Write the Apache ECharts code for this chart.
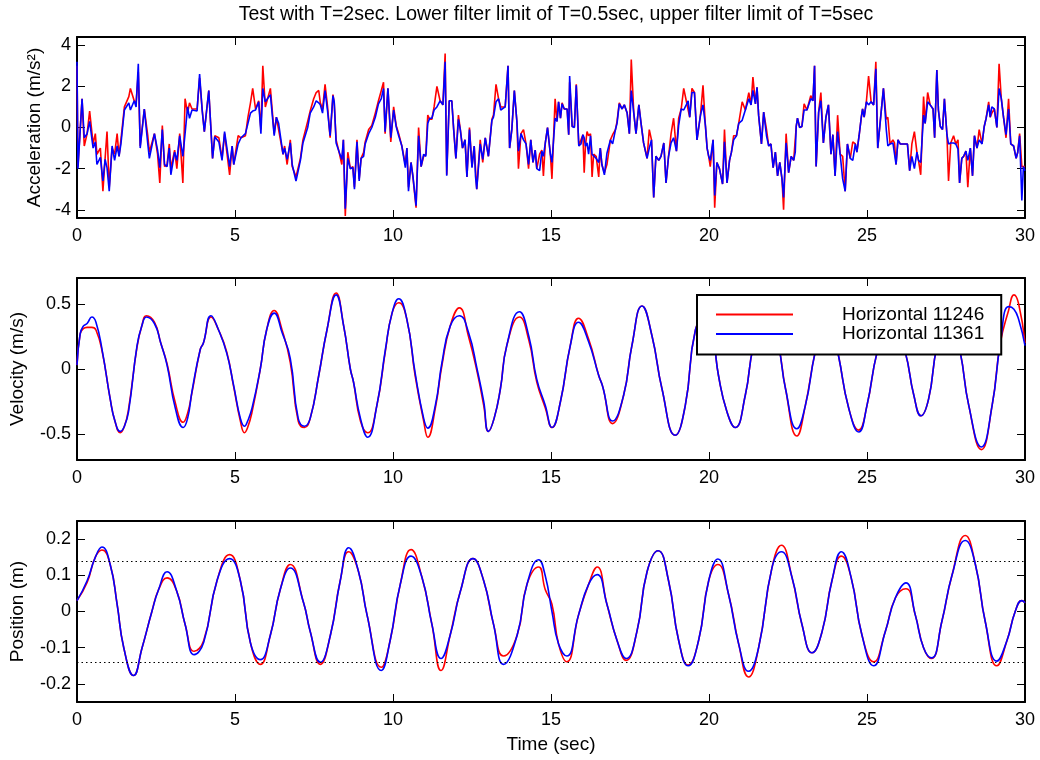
<!DOCTYPE html>
<html>
<head>
<meta charset="utf-8">
<title>Filter test</title>
<script src="https://cdn.jsdelivr.net/npm/echarts@6/dist/echarts.min.js"></script>
<style>
  html, body { margin: 0; padding: 0; background: #fff; }
  #chart { width: 1040px; height: 760px; }
</style>
</head>
<body>
<div id="chart"></div>
<script>
// ---- data ----
const seriesNames = ['Horizontal 11246', 'Horizontal 11361']
const timeTicks = [0, 5, 10, 15, 20, 25, 30]
const accelTicks = [-4, -2, 0, 2, 4]
const velTicks = [-0.5, 0, 0.5]
const posTicks = [-0.2, -0.1, 0, 0.1, 0.2]
const posLimits = [0.145, -0.145]

// acceleration (m/s^2), shared sample times
const accelTime = [
  0.00, 0.03, 0.16, 0.23, 0.32, 0.40, 0.51, 0.58, 0.63, 0.74,
  0.82, 0.89, 0.95, 1.02, 1.11, 1.19, 1.27, 1.33, 1.39, 1.50,
  1.64, 1.69, 1.81, 1.87, 1.94, 2.00, 2.13, 2.24, 2.29, 2.45,
  2.55, 2.62, 2.70, 2.77, 2.85, 2.92, 2.97, 3.09, 3.16, 3.25,
  3.35, 3.42, 3.50, 3.56, 3.64, 3.80, 3.88, 3.96, 4.03, 4.17,
  4.29, 4.36, 4.49, 4.59, 4.67, 4.83, 4.91, 4.96, 5.10, 5.19,
  5.33, 5.41, 5.49, 5.56, 5.65, 5.75, 5.82, 5.88, 5.96, 6.12,
  6.24, 6.31, 6.38, 6.52, 6.57, 6.65, 6.75, 6.81, 6.93, 7.07,
  7.15, 7.30, 7.38, 7.49, 7.57, 7.65, 7.70, 7.77, 7.85, 7.93,
  8.01, 8.10, 8.14, 8.20, 8.31, 8.38, 8.43, 8.49, 8.57, 8.65,
  8.73, 8.78, 8.86, 8.93, 8.99, 9.07, 9.12, 9.23, 9.33, 9.44,
  9.54, 9.63, 9.70, 9.75, 9.84, 9.93, 10.02, 10.10, 10.18, 10.28,
  10.39, 10.44, 10.49, 10.57, 10.63, 10.73, 10.81, 10.89, 10.97, 11.04,
  11.10, 11.16, 11.23, 11.30, 11.39, 11.49, 11.58, 11.65, 11.70, 11.78,
  11.86, 11.92, 11.99, 12.07, 12.13, 12.20, 12.28, 12.34, 12.42, 12.50,
  12.57, 12.61, 12.65, 12.76, 12.84, 12.92, 13.02, 13.13, 13.18, 13.26,
  13.34, 13.41, 13.55, 13.64, 13.69, 13.76, 13.84, 13.92, 13.97, 14.05,
  14.13, 14.21, 14.29, 14.36, 14.43, 14.50, 14.55, 14.64, 14.71, 14.76,
  14.82, 14.89, 14.98, 15.03, 15.13, 15.19, 15.24, 15.30, 15.35, 15.42,
  15.51, 15.56, 15.59, 15.67, 15.74, 15.80, 15.88, 15.95, 16.01, 16.05,
  16.09, 16.14, 16.19, 16.25, 16.30, 16.35, 16.43, 16.51, 16.56, 16.61,
  16.69, 16.77, 16.88, 16.95, 17.04, 17.09, 17.16, 17.25, 17.32, 17.41,
  17.48, 17.54, 17.62, 17.69, 17.78, 17.85, 17.93, 18.04, 18.11, 18.18,
  18.25, 18.32, 18.41, 18.48, 18.57, 18.64, 18.72, 18.80, 18.88, 18.97,
  19.04, 19.12, 19.20, 19.28, 19.34, 19.39, 19.46, 19.54, 19.62, 19.73,
  19.81, 19.89, 19.94, 19.99, 20.04, 20.13, 20.18, 20.25, 20.33, 20.38,
  20.43, 20.49, 20.57, 20.65, 20.71, 20.78, 20.87, 20.94, 21.05, 21.15,
  21.26, 21.33, 21.39, 21.47, 21.52, 21.57, 21.66, 21.73, 21.82, 21.89,
  21.96, 22.03, 22.10, 22.17, 22.24, 22.31, 22.36, 22.44, 22.52, 22.60,
  22.68, 22.73, 22.76, 22.80, 22.87, 22.94, 23.01, 23.10, 23.15, 23.22,
  23.29, 23.34, 23.39, 23.47, 23.54, 23.62, 23.70, 23.78, 23.86, 23.92,
  23.99, 24.07, 24.15, 24.23, 24.31, 24.38, 24.47, 24.55, 24.63, 24.68,
  24.75, 24.82, 24.86, 24.91, 24.98, 25.05, 25.13, 25.21, 25.28, 25.34,
  25.42, 25.52, 25.61, 25.66, 25.73, 25.82, 25.87, 25.92, 25.98, 26.05,
  26.13, 26.21, 26.28, 26.35, 26.42, 26.50, 26.58, 26.63, 26.70, 26.79,
  26.84, 26.92, 27.00, 27.09, 27.14, 27.21, 27.26, 27.32, 27.39, 27.45,
  27.53, 27.58, 27.65, 27.74, 27.81, 27.88, 27.93, 28.00, 28.06, 28.13,
  28.19, 28.27, 28.34, 28.40, 28.48, 28.55, 28.64, 28.71, 28.77, 28.85,
  28.90, 28.95, 29.03, 29.11, 29.18, 29.25, 29.32, 29.40, 29.48, 29.55,
  29.64, 29.72, 29.77, 29.83, 29.90, 29.95, 30.00
]
const accelRed = [
  3.0, -1.9, 1.4, -0.9, -0.3, 0.8, -0.8, -0.3, -1.3, -1.0,
  -3.1, -1.5, -0.2, -2.9, -1.0, -1.3, -0.3, -1.4, -0.6, 1.0,
  1.5, 1.9, 1.3, 1.2, 2.7, -0.9, 0.9, -0.4, -1.2, -0.3,
  -1.3, -2.7, 0.1, -1.9, -1.8, -0.8, -2.0, -1.1, -2.0, -0.3,
  -2.7, 1.4, 0.7, 1.2, 0.9, 0.9, 2.4, 0.9, -0.2, 1.8,
  -1.5, -0.4, -0.5, -1.5, -0.3, -2.3, -0.9, -1.8, -0.4, -0.5,
  -0.4, 0.5, 1.2, 1.9, 0.9, 1.3, -0.1, 3.0, 1.0, 1.9,
  -0.3, 0.5, -0.1, -1.3, -0.9, -1.8, -0.6, -1.9, -2.4, -1.5,
  -0.6, 0.3, 0.8, 1.4, 1.7, 1.8, 1.2, 0.9, 2.1, 1.0,
  -0.5, 1.6, 1.2, -0.6, -1.3, -1.8, -0.6, -4.3, -1.2, -2.0,
  -1.9, -2.9, -0.6, -2.5, -1.5, -1.2, -0.7, -0.1, 0.1, 0.7,
  1.3, 1.8, 2.2, -0.3, 1.9, -0.7, 1.0, 0.1, -0.3, -0.9,
  -1.8, -1.0, -2.9, -1.7, -2.4, -3.9, 0.0, -1.9, -1.4, -1.3,
  0.6, 0.4, 0.4, 1.0, 2.0, 1.3, 1.1, 3.6, -2.3, 1.3,
  1.3, -0.1, -1.5, 0.6, -0.1, -1.0, -0.6, -2.4, 0.0, -1.9,
  -0.9, -2.0, -3.0, -0.6, -1.7, -0.5, -1.4, 0.4, 0.6, 2.1,
  1.4, 1.0, 1.0, 3.0, -1.0, -0.1, 1.8, 0.3, -2.0, -0.3,
  -0.1, -0.8, -2.0, -0.6, -1.7, -1.1, -2.0, -1.3, -1.1, -2.35,
  -0.75, 0.0, -1.3, -2.5, 1.4, 0.3, 1.25, 0.45, 1.2, 0.9,
  0.9, -0.35, 2.2, 0.05, 0.05, 2.1, -0.9, -0.6, -0.35, -2.2,
  -0.9, -0.2, -0.4, -0.3, -2.4, -1.3, -1.4, -2.4, -1.0, -1.8,
  -2.2, -1.8, -0.6, -0.35, -0.1, 0.3, 1.2, 0.9, 1.1, 0.7,
  -0.3, 3.3, 0.7, -0.3, 1.1, 0.2, -0.75, -1.5, -0.1, -0.6,
  -3.4, -1.4, -1.6, -1.4, -0.75, -2.7, -1.4, -0.3, 0.45, -1.15,
  0.45, 0.9, 1.9, 1.3, 1.3, 0.5, 1.9, 1.7, -0.6, 0.6,
  2.05, 0.0, -1.0, -1.4, -1.9, -0.6, -3.9, -1.7, -2.0, -2.0,
  -2.75, -0.1, -2.7, -1.6, -1.2, -0.4, -0.4, 0.2, 1.25, 0.85,
  1.7, 1.1, 2.45, 1.15, 1.95, 0.6, -0.8, 0.75, -0.1, -0.9,
  -0.8, -1.95, -1.2, -2.35, -1.7, -2.5, -4.0, -0.3, -2.2, -1.4,
  -1.6, -1.6, 0.05, 0.45, 0.0, 0.05, 1.15, 0.85, 0.9, 1.55,
  1.3, 3.0, -1.9, 0.75, 1.7, -0.75, 0.5, 1.1, -1.3, -0.35,
  -2.35, 0.6, -1.3, -1.4, -3.1, -0.8, -1.5, -0.7, -0.8, -1.2,
  -0.4, 0.5, 0.9, 0.5, 1.25, 2.5, 1.25, 1.1, 3.2, -1.0,
  0.3, 1.9, 0.4, 0.5, -0.8, -0.6, -0.75, -1.8, -0.6, -0.8,
  -0.8, -0.8, -0.8, -2.1, -0.8, -0.2, -1.2, -1.6, -2.3, 1.5,
  0.2, 1.7, 1.1, 0.9, -0.5, 2.8, 0.85, 0.05, -0.1, 1.4,
  -0.35, -2.6, -0.75, -0.4, -0.8, -0.6, -2.7, -1.5, -1.4, -1.15,
  -2.9, -1.0, -2.35, -0.4, -1.0, -0.1, -0.8, 0.05, 0.45, 1.25,
  0.5, 0.7, 0.9, 0.0, 3.1, 1.4, 0.5, -0.5, 1.4, -0.8,
  -0.9, -1.5, -1.2, -0.3, -1.9, -1.9, -1.9
]
const accelBlue = [
  3.2, -2.0, 1.4, -0.5, -0.3, 0.3, -1.0, -0.7, -1.8, -1.45,
  -2.6, -1.55, -1.95, -3.1, -0.9, -1.6, -0.9, -1.4, -0.8, 0.85,
  1.2, 0.85, 1.3, 1.0, 3.1, -1.0, 0.9, -0.8, -1.5, -0.3,
  -1.1, -1.95, -0.1, -1.8, -1.9, -1.0, -2.3, -1.2, -1.6, -0.4,
  -1.4, -0.3, 1.0, 0.45, 0.85, 0.8, 2.6, 0.85, -0.2, 1.8,
  -1.5, -0.45, -0.7, -1.6, -0.2, -1.9, -0.9, -1.8, -0.8, -0.5,
  -0.3, 0.2, 0.7, 0.8, 0.85, 1.25, -0.3, 1.9, 1.25, 1.6,
  -0.4, 0.5, 0.2, -1.3, -1.0, -1.55, -0.75, -1.8, -2.6, -1.6,
  -0.75, 0.0, 0.7, 1.0, 1.3, 1.2, 1.1, 0.7, 1.8, 0.8,
  -0.4, 1.55, 1.25, -0.75, -1.25, -1.55, -0.6, -3.95, -1.5, -2.0,
  -1.95, -3.0, -0.7, -2.6, -1.5, -1.4, -0.8, -0.3, 0.0, 0.5,
  1.15, 1.4, 1.9, -0.2, 1.9, -0.5, 0.85, 0.05, -0.4, -0.9,
  -1.95, -1.0, -3.1, -1.7, -2.35, -3.8, -0.4, -1.9, -1.3, -1.4,
  0.2, 0.45, 0.45, 0.85, 1.0, 1.3, 1.1, 3.2, -2.35, 1.3,
  1.3, -0.1, -1.5, 0.4, -0.1, -1.0, -0.6, -2.4, -0.1, -1.95,
  -0.9, -2.35, -3.0, -0.8, -1.55, -0.5, -1.4, 0.35, 0.5, 1.25,
  1.4, 0.85, 1.0, 3.0, -1.0, -0.1, 1.8, 0.3, -1.15, -0.3,
  -0.6, -0.8, -1.8, -0.6, -1.7, -1.1, -2.0, -2.1, -1.15, -1.4,
  -0.75, 0.0, -1.3, -1.7, 0.45, 0.3, 1.25, 0.45, 1.15, 0.9,
  0.9, -0.35, 2.5, 0.05, 0.0, 2.05, -0.9, -0.8, -0.35, -0.5,
  -0.9, -0.75, -1.3, -0.4, -1.3, -1.3, -1.5, -1.7, -1.0, -1.8,
  -2.3, -1.25, -0.6, -0.8, -0.1, 0.2, 1.15, 0.9, 1.1, 0.7,
  -0.3, 1.8, 0.7, -0.3, 1.1, 0.2, -0.75, -1.5, -1.0, -0.6,
  -3.4, -1.4, -1.6, -1.4, -0.75, -2.7, -1.4, -0.75, -0.5, -1.15,
  0.1, 0.9, 0.85, 1.1, 1.3, 0.5, 1.7, 1.7, -0.6, 0.6,
  1.1, 0.05, -1.0, -1.4, -1.6, -0.6, -3.3, -1.7, -2.0, -2.0,
  -2.75, -0.7, -2.7, -1.6, -1.2, -0.6, -0.4, 0.2, 0.35, 0.85,
  1.4, 1.1, 1.8, 1.15, 1.95, 0.6, -0.8, 0.75, -0.4, -0.9,
  -0.8, -1.95, -1.2, -2.35, -1.7, -2.5, -3.4, -0.75, -2.2, -1.4,
  -1.6, -1.2, 0.05, 0.45, 0.0, 0.05, 0.85, 0.85, 0.9, 1.4,
  1.3, 3.0, -1.9, 0.75, 1.3, -0.75, 0.5, 1.1, -1.3, -0.35,
  -2.35, -0.2, -1.3, -2.5, -3.1, -0.8, -1.5, -1.6, -0.8, -1.2,
  -0.4, 0.5, 0.9, 0.5, 1.25, 1.1, 1.25, 1.1, 2.85, -1.0,
  0.3, 1.9, -0.1, -0.9, -0.8, -0.75, -0.75, -1.8, -0.6, -0.8,
  -0.8, -0.8, -0.8, -2.1, -1.4, -2.0, -1.2, -1.6, -1.7, 0.6,
  0.2, 1.25, 1.1, 0.9, -0.5, 2.8, 0.85, 0.05, -0.1, 1.4,
  -0.35, -0.8, -0.75, -0.75, -0.8, -1.05, -2.7, -1.5, -1.4, -1.15,
  -1.6, -1.0, -2.35, -0.4, -1.0, -0.6, -0.8, 0.05, 0.45, 1.1,
  0.5, 1.0, 0.9, 0.0, 1.9, 1.4, 0.5, -0.35, 0.9, -0.8,
  -0.9, -1.5, -1.2, -0.4, -3.55, -1.9, -2.1
]

// velocity (m/s)
const velTime = [
  0.00, 0.10, 0.20, 0.32, 0.47, 0.60, 0.80, 1.05, 1.20, 1.37,
  1.50, 1.63, 1.90, 2.05, 2.20, 2.45, 2.65, 2.85, 3.11, 3.36,
  3.50, 3.64, 3.90, 4.00, 4.24, 4.48, 4.74, 4.96, 5.17, 5.30,
  5.40, 5.54, 5.80, 6.00, 6.24, 6.49, 6.75, 7.00, 7.20, 7.38,
  7.65, 7.91, 8.20, 8.44, 8.65, 8.75, 8.97, 9.20, 9.49, 9.76,
  9.97, 10.18, 10.44, 10.70, 10.97, 11.10, 11.34, 11.55, 11.81, 12.10,
  12.39, 12.66, 12.87, 13.02, 13.20, 13.40, 13.60, 14.00, 14.30, 14.55,
  14.82, 15.03, 15.30, 15.61, 15.87, 16.19, 16.51, 16.63, 16.95, 17.30,
  17.56, 17.88, 18.20, 18.51, 18.93, 19.25, 19.57, 19.95, 20.30, 20.57,
  20.83, 21.15, 21.41, 21.85, 22.20, 22.42, 22.78, 23.05, 23.36, 23.75,
  24.10, 24.42, 24.74, 25.00, 25.32, 25.75, 26.21, 26.48, 26.71, 26.95,
  27.22, 27.60, 27.95, 28.22, 28.62, 28.96, 29.22, 29.48, 29.65, 29.80,
  30.00
]
const velRed = [
  0.03, 0.27, 0.31, 0.32, 0.32, 0.30, 0.13, -0.23, -0.40, -0.49,
  -0.44, -0.31, 0.17, 0.33, 0.41, 0.36, 0.20, 0.04, -0.26, -0.41,
  -0.34, -0.18, 0.15, 0.20, 0.40, 0.30, 0.13, -0.14, -0.40, -0.49,
  -0.45, -0.33, 0.00, 0.30, 0.45, 0.30, 0.05, -0.40, -0.45, -0.38,
  -0.05, 0.30, 0.585, 0.33, 0.00, -0.10, -0.40, -0.49, -0.28, 0.14,
  0.43, 0.51, 0.38, -0.05, -0.40, -0.525, -0.30, 0.03, 0.33, 0.47,
  0.25, -0.02, -0.28, -0.48, -0.38, -0.15, 0.18, 0.40, 0.22, -0.10,
  -0.30, -0.45, -0.25, 0.18, 0.39, 0.23, -0.05, -0.13, -0.42, -0.20,
  0.18, 0.485, 0.25, -0.15, -0.51, -0.28, 0.30, 0.47, -0.05, -0.33,
  -0.45, -0.20, 0.18, 0.48, 0.18, -0.15, -0.515, -0.28, 0.13, 0.48,
  0.10, -0.30, -0.47, -0.28, 0.13, 0.45, 0.13, -0.20, -0.36, -0.23,
  0.18, 0.45, 0.13, -0.28, -0.62, -0.28, 0.20, 0.45, 0.57, 0.50,
  0.20
]
const velBlue = [
  0.03, 0.27, 0.33, 0.35, 0.40, 0.36, 0.14, -0.23, -0.40, -0.48,
  -0.44, -0.33, 0.18, 0.33, 0.40, 0.35, 0.20, 0.03, -0.30, -0.45,
  -0.38, -0.17, 0.15, 0.20, 0.41, 0.30, 0.12, -0.13, -0.38, -0.44,
  -0.40, -0.30, 0.00, 0.30, 0.43, 0.28, 0.08, -0.38, -0.44, -0.38,
  -0.05, 0.30, 0.57, 0.33, 0.00, -0.10, -0.38, -0.525, -0.28, 0.15,
  0.43, 0.54, 0.38, -0.03, -0.38, -0.455, -0.28, 0.05, 0.33, 0.41,
  0.28, 0.00, -0.25, -0.48, -0.38, -0.15, 0.18, 0.44, 0.25, -0.08,
  -0.28, -0.45, -0.25, 0.18, 0.36, 0.21, -0.05, -0.13, -0.40, -0.20,
  0.18, 0.485, 0.25, -0.15, -0.51, -0.28, 0.30, 0.47, -0.05, -0.33,
  -0.45, -0.20, 0.18, 0.48, 0.18, -0.15, -0.46, -0.28, 0.13, 0.48,
  0.10, -0.30, -0.485, -0.28, 0.13, 0.45, 0.13, -0.20, -0.36, -0.23,
  0.18, 0.45, 0.13, -0.28, -0.60, -0.28, 0.20, 0.48, 0.46, 0.38,
  0.18
]

// position (m)
const posTime = [
  0.00, 0.32, 0.58, 0.79, 1.05, 1.27, 1.48, 1.79, 2.06, 2.37,
  2.58, 2.85, 3.16, 3.42, 3.71, 4.01, 4.43, 4.83, 5.17, 5.49,
  5.80, 6.12, 6.43, 6.75, 7.17, 7.38, 7.70, 8.02, 8.33, 8.60,
  8.91, 9.18, 9.63, 9.91, 10.23, 10.57, 10.92, 11.23, 11.52, 11.81,
  12.13, 12.53, 12.87, 13.18, 13.50, 13.93, 14.24, 14.61, 14.82, 15.03,
  15.24, 15.50, 15.87, 16.19, 16.46, 16.77, 17.09, 17.38, 17.72, 18.04,
  18.39, 18.72, 19.04, 19.34, 19.67, 19.99, 20.28, 20.62, 20.94, 21.25,
  21.57, 21.99, 22.29, 22.63, 22.94, 23.26, 23.58, 23.89, 24.19, 24.50,
  24.84, 25.21, 25.58, 25.90, 26.23, 26.53, 26.79, 27.04, 27.37, 27.69,
  28.11, 28.43, 28.74, 29.11, 29.43, 29.69, 29.90, 30.00
]
const posRed = [
  0.03, 0.08, 0.15, 0.17, 0.13, 0.02, -0.10, -0.177, -0.10, 0.00,
  0.06, 0.093, 0.055, -0.035, -0.11, -0.08, 0.085, 0.157, 0.085, -0.087,
  -0.146, -0.065, 0.06, 0.13, 0.024, -0.055, -0.146, -0.065, 0.085, 0.165,
  0.11, -0.01, -0.154, -0.08, 0.075, 0.171, 0.093, -0.035, -0.163, -0.065,
  0.055, 0.146, 0.085, -0.035, -0.123, -0.065, 0.075, 0.123, 0.06, 0.02,
  -0.09, -0.139, -0.01, 0.075, 0.123, 0.02, -0.08, -0.135, -0.055, 0.11,
  0.168, 0.085, -0.08, -0.148, -0.08, 0.085, 0.13, 0.047, -0.09, -0.181,
  -0.10, 0.12, 0.183, 0.093, -0.035, -0.114, -0.055, 0.085, 0.153, 0.093,
  -0.065, -0.139, -0.055, 0.038, 0.063, -0.01, -0.10, -0.13, -0.027, 0.10,
  0.21, 0.13, -0.027, -0.15, -0.08, 0.00, 0.03, 0.024
]
const posBlue = [
  0.03, 0.085, 0.15, 0.178, 0.13, 0.02, -0.10, -0.177, -0.10, 0.00,
  0.06, 0.11, 0.055, -0.035, -0.119, -0.085, 0.085, 0.146, 0.085, -0.087,
  -0.133, -0.065, 0.06, 0.12, 0.024, -0.055, -0.14, -0.065, 0.085, 0.176,
  0.11, -0.01, -0.163, -0.08, 0.075, 0.153, 0.093, -0.035, -0.13, -0.065,
  0.055, 0.146, 0.085, -0.035, -0.146, -0.065, 0.075, 0.143, 0.098, 0.00,
  -0.09, -0.123, -0.01, 0.075, 0.102, 0.02, -0.08, -0.13, -0.055, 0.11,
  0.168, 0.085, -0.08, -0.15, -0.08, 0.085, 0.145, 0.047, -0.09, -0.165,
  -0.10, 0.12, 0.165, 0.093, -0.035, -0.114, -0.055, 0.085, 0.165, 0.093,
  -0.065, -0.15, -0.055, 0.038, 0.079, -0.01, -0.10, -0.128, -0.027, 0.10,
  0.196, 0.13, -0.027, -0.137, -0.08, 0.00, 0.03, 0.024
]

// ---- chart ----
const FONT = '"Liberation Sans", Arial, Helvetica, sans-serif'
const TEXT_SIZE = 18
const colors = ['#ff0000', '#0000ff']

// one entry per subplot
const panels = [
  { top: 37, height: 181, min: -4.4, max: 4.4, ticks: accelTicks, name: 'Acceleration (m/s²)', nameGap: 28,
    time: accelTime, values: [accelRed, accelBlue], smooth: false },
  { top: 278, height: 182, min: -0.7, max: 0.7, ticks: velTicks, name: 'Velocity (m/s)', nameGap: 50,
    time: velTime, values: [velRed, velBlue], smooth: 0.5 },
  { top: 521, height: 181, min: -0.25, max: 0.25, ticks: posTicks, name: 'Position (m)', nameGap: 50,
    time: posTime, values: [posRed, posBlue], smooth: 0.5 },
]

function pairs(t, v) {
  return t.map((x, i) => [x, v[i]])
}

const boxLine = { onZero: false, lineStyle: { color: '#000', width: 2 } }
const tickStyle = { color: '#000', width: 1 }
const labelText = { color: '#000', fontSize: TEXT_SIZE, fontFamily: FONT }
const nameText = { color: '#000', fontSize: 19, fontFamily: FONT }

const grid = []
const xAxis = []
const yAxis = []
const series = []

panels.forEach((p, i) => {
  grid.push({ left: 77, width: 948, top: p.top, height: p.height, show: false })

  // bottom x axis with labels, top x axis as the box edge
  const isLast = i === panels.length - 1
  xAxis.push({
    gridIndex: i, type: 'value', position: 'bottom', min: 0, max: 30,
    axisLine: boxLine,
    axisTick: { inside: true, length: 8, lineStyle: tickStyle, customValues: timeTicks },
    axisLabel: Object.assign({ margin: 9, customValues: timeTicks }, labelText),
    splitLine: { show: false },
    name: isLast ? 'Time (sec)' : '',
    nameLocation: 'middle',
    nameGap: 33,
    nameTextStyle: nameText,
  })
  xAxis.push({
    gridIndex: i, type: 'value', position: 'top', min: 0, max: 30,
    axisLine: boxLine,
    axisTick: { inside: true, length: 8, lineStyle: tickStyle, customValues: timeTicks },
    axisLabel: { show: false },
    splitLine: { show: false },
  })

  yAxis.push({
    gridIndex: i, type: 'value', position: 'left', min: p.min, max: p.max,
    axisLine: boxLine,
    axisTick: { inside: true, length: 8, lineStyle: tickStyle, customValues: p.ticks },
    axisLabel: Object.assign({ margin: 6, customValues: p.ticks }, labelText),
    splitLine: { show: false },
    name: p.name,
    nameLocation: 'middle',
    nameRotate: 90,
    nameGap: p.nameGap,
    nameTextStyle: nameText,
  })
  yAxis.push({
    gridIndex: i, type: 'value', position: 'right', min: p.min, max: p.max,
    axisLine: boxLine,
    axisTick: { inside: true, length: 8, lineStyle: tickStyle, customValues: p.ticks },
    axisLabel: { show: false },
    splitLine: { show: false },
  })

  p.values.forEach((vals, k) => {
    const s = {
      name: seriesNames[k],
      type: 'line',
      xAxisIndex: i * 2,
      yAxisIndex: i * 2,
      data: pairs(p.time, vals),
      symbol: 'none',
      smooth: p.smooth,
      lineStyle: { color: colors[k], width: 1.6 },
      itemStyle: { color: colors[k] },
    }
    // dotted limit lines on the position plot
    if (isLast && k === 0) {
      s.markLine = {
        silent: true,
        symbol: ['none', 'none'],
        label: { show: false },
        lineStyle: { color: '#000', type: [1.5, 3], width: 1.2 },
        data: posLimits.map((v) => ({ yAxis: v })),
      }
    }
    series.push(s)
  })
})

const chart = echarts.init(document.getElementById('chart'), null, { renderer: 'canvas' })
chart.setOption({
  animation: false,
  backgroundColor: '#fff',
  title: {
    text: 'Test with T=2sec. Lower filter limit of T=0.5sec, upper filter limit of T=5sec',
    left: 551,
    top: 0,
    textAlign: 'center',
    textStyle: { color: '#000', fontSize: 19.5, fontWeight: 'normal', fontFamily: FONT },
  },
  legend: {
    data: seriesNames.map((n, k) => ({ name: n, itemStyle: { color: colors[k] } })),
    orient: 'vertical',
    left: 697,
    top: 295,
    padding: [10, 17, 11, 19],
    icon: 'rect',
    itemWidth: 77,
    itemHeight: 2,
    itemGap: 0.5,
    backgroundColor: '#fff',
    borderColor: '#000',
    borderWidth: 2,
    borderRadius: 0,
    selectedMode: false,
    z: 10,
    textStyle: { color: '#000', fontSize: 19, fontFamily: FONT, lineHeight: 18, padding: [0, 0, 0, 44] },
  },
  grid,
  xAxis,
  yAxis,
  series,
})
</script>
</body>
</html>
